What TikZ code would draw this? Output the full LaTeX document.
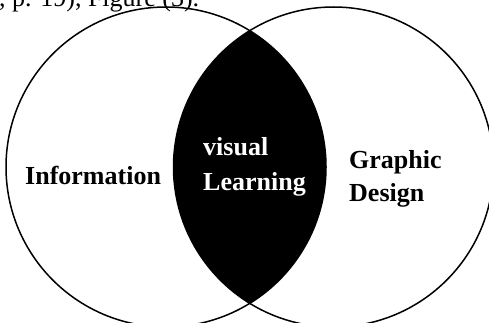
\documentclass[tikz,border=0pt]{standalone}
\usepackage{fontspec}
\setmainfont{Liberation Serif}
\tikzset{lbl/.style={font=\bfseries\fontsize{26}{30}\selectfont,inner sep=0pt,anchor=base west},
 ring/.style={draw=black,line width=1.5pt},
 head/.style={font=\fontsize{26}{30}\selectfont,inner sep=0pt,anchor=base west}}
\begin{document}
\begin{tikzpicture}[x=1pt,y=-1pt]
\useasboundingbox (0,0) rectangle (489,323);
\clip (0,0) rectangle (489,323);
\fill[white] (0,0) rectangle (489,323);
\coordinate (L) at (166,167);
\coordinate (R) at (333.5,167);
\begin{scope}
\clip (L) circle [radius=160pt];
\fill[black] (R) circle [radius=160pt];
\end{scope}
\draw[ring] (L) circle [radius=160pt];
\draw[ring] (R) circle [radius=160pt];
\node[head] (h) at (-1,7) {, p. 19), Figure (3).};
\node[lbl] (a) at (25,184) {Information};
\node[lbl,text=white] (b) at (203,155) {visual};
\node[lbl,text=white] (c) at (203,190) {Learning};
\node[lbl] (d) at (349,168) {Graphic};
\node[lbl] (e) at (349,201) {Design};
\end{tikzpicture}
\end{document}
